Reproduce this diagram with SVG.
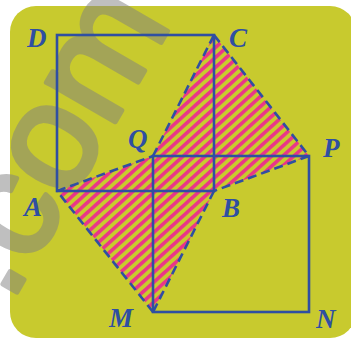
<svg xmlns="http://www.w3.org/2000/svg" width="351" height="342" viewBox="0 0 351 342">
  <defs>
    <pattern id="hatch" patternUnits="userSpaceOnUse" width="20" height="7.4" patternTransform="rotate(-42)">
      <rect x="0" y="0" width="20" height="3.6" fill="#ea3588"/>
    </pattern>
    <style>
      .sq { fill: none; stroke: #2f4fa2; stroke-width: 2.6; }
      .dash { fill: none; stroke: #2f4fa2; stroke-width: 2.6; stroke-dasharray: 9 5; }
      .lbl { font-family: "Liberation Serif", "Times New Roman", serif; font-style: italic; font-weight: bold; font-size: 27px; fill: #2f4fa2; }
      .wm { font-family: "Liberation Sans", Arial, sans-serif; font-size: 150px; fill: #808080; stroke: #808080; stroke-width: 5; stroke-linejoin: round; }
    </style>
  </defs>
  <rect width="351" height="342" fill="#ffffff"/>
  <rect id="background" x="10" y="6" width="346" height="332" rx="26" ry="26" fill="#c8ca2e"/>
  <g opacity="0.5">
    <text class="wm" transform="translate(10,304) rotate(-60)">.com</text>
  </g>
  <g id="shaded">
    <polygon points="57,191 153,156 214,35 309,156 214,191 153,312" fill="url(#hatch)"/>
  </g>
  <g id="square-ABCD">
    <rect class="sq" x="57" y="35" width="157" height="156"/>
  </g>
  <g id="square-QPNM">
    <rect class="sq" x="153" y="156" width="156" height="156"/>
  </g>
  <g id="connectors">
    <line class="dash" x1="57" y1="191" x2="153" y2="156"/>
    <line class="dash" x1="153" y1="156" x2="214" y2="35"/>
    <line class="dash" x1="214" y1="35" x2="309" y2="156"/>
    <line class="dash" x1="309" y1="156" x2="214" y2="191"/>
    <line class="dash" x1="214" y1="191" x2="153" y2="312"/>
    <line class="dash" x1="153" y1="312" x2="57" y2="191"/>
  </g>
  <g id="labels">
    <text class="lbl" x="27" y="47">D</text>
    <text class="lbl" x="229" y="47">C</text>
    <text class="lbl" x="128" y="148">Q</text>
    <text class="lbl" x="323" y="157">P</text>
    <text class="lbl" x="24" y="216">A</text>
    <text class="lbl" x="222" y="217">B</text>
    <text class="lbl" x="109" y="327">M</text>
    <text class="lbl" x="316" y="328">N</text>
  </g>
</svg>
